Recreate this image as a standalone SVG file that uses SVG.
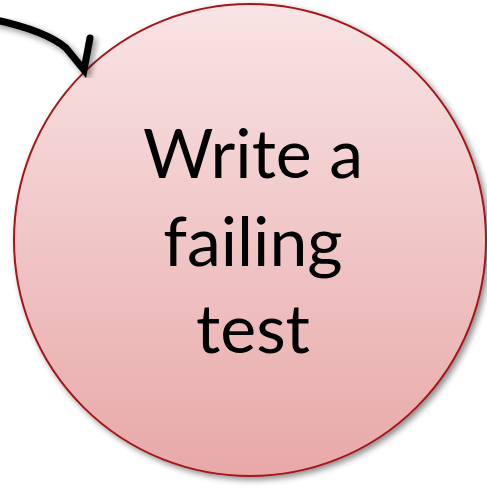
<svg xmlns="http://www.w3.org/2000/svg" width="487" height="488" viewBox="0 0 487 488">
  <defs>
    <linearGradient id="fill" x1="0" y1="0" x2="0" y2="1">
      <stop offset="0" stop-color="#F9E4E5"/>
      <stop offset="1" stop-color="#E8A8A8"/>
    </linearGradient>
    <filter id="shadow" x="-10%" y="-10%" width="125%" height="125%">
      <feGaussianBlur in="SourceAlpha" stdDeviation="3"/>
      <feOffset dx="3" dy="3" result="b"/>
      <feComponentTransfer><feFuncA type="linear" slope="0.45"/></feComponentTransfer>
      <feMerge><feMergeNode/><feMergeNode in="SourceGraphic"/></feMerge>
    </filter>
    <style>
      .node { fill: url(#fill); stroke: #A3161A; stroke-width: 2; }
      .label { font-family: Lato, "Liberation Sans", sans-serif; font-size: 68px; fill: #000; text-anchor: middle; }
      .conn { fill: none; stroke: #000; stroke-width: 7; stroke-linecap: round; stroke-linejoin: miter; }
    </style>
  </defs>
  <g id="node-write-failing-test" filter="url(#shadow)">
    <ellipse class="node" cx="250" cy="240" rx="236" ry="236"/>
  </g>
  <g id="node-text">
    <text class="label" x="253" y="178">Write a</text>
    <text class="label" x="253" y="266">failing</text>
    <text class="label" x="253" y="353">test</text>
  </g>
  <g id="connectors" filter="url(#shadow)">
    <path class="conn" d="M-4,20 C28,27 52,36 66,48 L84,70 L90,38"/>
  </g>
</svg>
